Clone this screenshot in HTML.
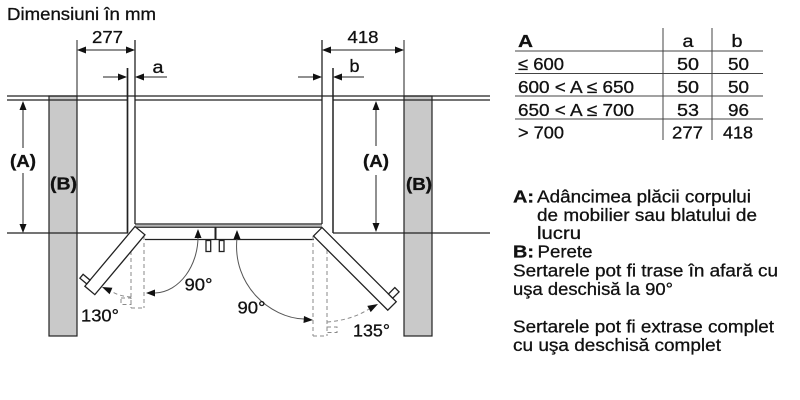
<!DOCTYPE html>
<html>
<head>
<meta charset="utf-8">
<style>
html,body{margin:0;padding:0;background:#fff;}
svg{display:block;}
</style>
</head>
<body>
<svg width="800" height="400" viewBox="0 0 800 400" xmlns="http://www.w3.org/2000/svg" font-family="'Liberation Sans', Arial, sans-serif" font-size="17.5" fill="#111">
<rect x="0" y="0" width="800" height="400" fill="#fff"/>

<!-- Walls -->
<rect x="49" y="96" width="28" height="240" fill="#c9c9c9" stroke="#222" stroke-width="1.2"/>
<rect x="404" y="96" width="28" height="240" fill="#c9c9c9" stroke="#222" stroke-width="1.2"/>

<g stroke="#222" stroke-width="1.3" fill="none">
  <line x1="7" y1="96" x2="490" y2="96"/>
  <line x1="7" y1="100" x2="127" y2="100"/>
  <line x1="135" y1="100" x2="322" y2="100"/>
  <line x1="333" y1="100" x2="490" y2="100"/>
  <line x1="7" y1="233" x2="128" y2="233"/>
  <line x1="333" y1="233" x2="490" y2="233"/>
  <line x1="127.5" y1="68" x2="127.5" y2="233" stroke-width="1.7"/>
  <line x1="333" y1="68" x2="333" y2="233" stroke-width="1.5"/>
  <line x1="135" y1="40" x2="135" y2="224"/>
  <line x1="322" y1="40" x2="322" y2="224"/>
  <line x1="77" y1="40" x2="77" y2="96" stroke-width="1"/>
  <line x1="404" y1="40" x2="404" y2="96" stroke-width="1"/>
  <line x1="135" y1="224" x2="322" y2="224"/>
</g>
<rect x="135" y="224.5" width="187" height="2.3" fill="#b5b5b5"/>
<g stroke="#222" stroke-width="1.3" fill="none">
  <line x1="135" y1="227.3" x2="322" y2="227.3" stroke="#444"/>
  <line x1="145" y1="239.5" x2="314" y2="239.5"/>
  <line x1="215.5" y1="227" x2="215.5" y2="240" stroke-width="2"/>
  <rect x="206" y="240.5" width="4.7" height="11" fill="#fff"/>
  <rect x="219.3" y="240.5" width="4.7" height="11" fill="#fff"/>
</g>

<g stroke="#8a8a8a" stroke-width="1" fill="none" stroke-dasharray="4,3">
  <line x1="131" y1="237" x2="131" y2="308"/>
  <line x1="144" y1="236" x2="144" y2="308"/>
  <line x1="131" y1="308" x2="144" y2="308"/>
  <rect x="121" y="298" width="10" height="6.5"/>
  <path d="M131,297 Q118,296 111,291"/>
  <line x1="313" y1="236" x2="313" y2="336"/>
  <line x1="327" y1="236" x2="327" y2="336"/>
  <line x1="313" y1="336" x2="327" y2="336"/>
  <rect x="327" y="327" width="10" height="5.5"/>
  <path d="M327,322 Q352,320 369,309"/>
</g>
<polygon points="102,287 112.4,287.8 109.6,294.2" fill="#111"/>
<polygon points="378,304 370.7,312.1 367.3,305.9" fill="#111"/>

<g transform="translate(135,226.5) rotate(130)" stroke="#222" stroke-width="1.3" fill="#fff">
  <rect x="0" y="-13" width="78" height="13"/>
  <rect x="70" y="0" width="5" height="9"/>
</g>
<g transform="translate(322,227.5) rotate(45)" stroke="#222" stroke-width="1.3" fill="#fff">
  <rect x="0" y="0" width="105" height="12"/>
  <rect x="94" y="-9" width="6" height="9"/>
</g>

<g stroke="#555" stroke-width="1" fill="none">
  <path d="M198,237 C198,265 180,292 155,293"/>
  <path d="M237,238 C232,285 270,318 304,319"/>
</g>
<polygon points="198,229 194.5,238 201.5,238" fill="#111"/>
<polygon points="146,293 155,289.5 155,296.5" fill="#111"/>
<polygon points="237,230 233.5,239 240.5,239" fill="#111"/>
<polygon points="313,320 304,316 303.5,323" fill="#111"/>

<g stroke="#222" stroke-width="1" fill="none">
  <line x1="80" y1="50" x2="132" y2="50"/>
  <line x1="103" y1="77" x2="124" y2="77"/>
  <line x1="138" y1="77" x2="167" y2="77"/>
  <line x1="325" y1="50" x2="401" y2="50"/>
  <line x1="298" y1="77" x2="319" y2="77"/>
  <line x1="336" y1="77" x2="364" y2="77"/>
  <line x1="23" y1="104" x2="23" y2="148"/>
  <line x1="23" y1="173" x2="23" y2="230"/>
  <line x1="376" y1="104" x2="376" y2="146"/>
  <line x1="376" y1="175" x2="376" y2="229"/>
</g>
<g fill="#111">
  <polygon points="77,50 86,46.5 86,53.5"/>
  <polygon points="135,50 126,46.5 126,53.5"/>
  <polygon points="127,77 118,73.5 118,80.5"/>
  <polygon points="135,77 144,73.5 144,80.5"/>
  <polygon points="322,50 331,46.5 331,53.5"/>
  <polygon points="404,50 395,46.5 395,53.5"/>
  <polygon points="322,77 313,73.5 313,80.5"/>
  <polygon points="333,77 342,73.5 342,80.5"/>
  <polygon points="23,101 19.5,110 26.5,110"/>
  <polygon points="23,233 19.5,224 26.5,224"/>
  <polygon points="376,101 372.5,110 379.5,110"/>
  <polygon points="376,232 372.5,223 379.5,223"/>
</g>

<g stroke="#111" stroke-width="0.3">
<text x="7" y="20" textLength="149" lengthAdjust="spacingAndGlyphs">Dimensiuni în mm</text>
<text x="92" y="43" textLength="31" lengthAdjust="spacingAndGlyphs">277</text>
<text x="152.5" y="73" textLength="11" lengthAdjust="spacingAndGlyphs">a</text>
<text x="347.5" y="43" textLength="31" lengthAdjust="spacingAndGlyphs">418</text>
<text x="349.5" y="72" textLength="10" lengthAdjust="spacingAndGlyphs">b</text>
<text x="10" y="167" font-weight="bold" textLength="26" lengthAdjust="spacingAndGlyphs">(A)</text>
<text x="50" y="189.5" font-weight="bold" textLength="27" lengthAdjust="spacingAndGlyphs">(B)</text>
<text x="363" y="167" font-weight="bold" textLength="26" lengthAdjust="spacingAndGlyphs">(A)</text>
<text x="406" y="190" font-weight="bold" textLength="26" lengthAdjust="spacingAndGlyphs">(B)</text>
<text x="184.5" y="290.5" textLength="28" lengthAdjust="spacingAndGlyphs">90°</text>
<text x="81" y="321.5" textLength="38" lengthAdjust="spacingAndGlyphs">130°</text>
<text x="237.5" y="313.5" textLength="28" lengthAdjust="spacingAndGlyphs">90°</text>
<text x="353" y="336.5" textLength="37" lengthAdjust="spacingAndGlyphs">135°</text>
</g>

<g stroke="#444" stroke-width="1">
  <line x1="515" y1="51" x2="763" y2="51"/>
  <line x1="515" y1="73.5" x2="763" y2="73.5"/>
  <line x1="515" y1="96" x2="763" y2="96"/>
  <line x1="515" y1="119" x2="763" y2="119"/>
  <line x1="663" y1="28" x2="663" y2="140"/>
  <line x1="712" y1="28" x2="712" y2="140"/>
</g>
<g stroke="#111" stroke-width="0.3">
<text x="518" y="47" font-weight="bold" textLength="15" lengthAdjust="spacingAndGlyphs">A</text>
<text x="682.5" y="47" textLength="11" lengthAdjust="spacingAndGlyphs">a</text>
<text x="731.5" y="47" textLength="11" lengthAdjust="spacingAndGlyphs">b</text>
<text x="518" y="70" textLength="46" lengthAdjust="spacingAndGlyphs">≤ 600</text>
<text x="677" y="70" textLength="22" lengthAdjust="spacingAndGlyphs">50</text>
<text x="728" y="70" textLength="21" lengthAdjust="spacingAndGlyphs">50</text>
<text x="518" y="93" textLength="116" lengthAdjust="spacingAndGlyphs">600 &lt; A ≤ 650</text>
<text x="677" y="93" textLength="22" lengthAdjust="spacingAndGlyphs">50</text>
<text x="728" y="93" textLength="21" lengthAdjust="spacingAndGlyphs">50</text>
<text x="518" y="116" textLength="116" lengthAdjust="spacingAndGlyphs">650 &lt; A ≤ 700</text>
<text x="677" y="116" textLength="22" lengthAdjust="spacingAndGlyphs">53</text>
<text x="728" y="116" textLength="21" lengthAdjust="spacingAndGlyphs">96</text>
<text x="518" y="138.5" textLength="46" lengthAdjust="spacingAndGlyphs">&gt; 700</text>
<text x="672" y="138.5" textLength="31" lengthAdjust="spacingAndGlyphs">277</text>
<text x="723" y="138.5" textLength="30" lengthAdjust="spacingAndGlyphs">418</text>

<text x="513" y="202.5" font-weight="bold" textLength="21" lengthAdjust="spacingAndGlyphs">A:</text>
<text x="537" y="202.5" textLength="214" lengthAdjust="spacingAndGlyphs">Adâncimea plăcii corpului</text>
<text x="537" y="221" textLength="220" lengthAdjust="spacingAndGlyphs">de mobilier sau blatului de</text>
<text x="537" y="239" textLength="44" lengthAdjust="spacingAndGlyphs">lucru</text>
<text x="513" y="257.5" font-weight="bold" textLength="21" lengthAdjust="spacingAndGlyphs">B:</text>
<text x="537.5" y="257.5" textLength="55" lengthAdjust="spacingAndGlyphs">Perete</text>
<text x="513" y="276.5" textLength="265" lengthAdjust="spacingAndGlyphs">Sertarele pot fi trase în afară cu</text>
<text x="513" y="295" textLength="160" lengthAdjust="spacingAndGlyphs">uşa deschisă la 90°</text>
<text x="513" y="332.5" textLength="261" lengthAdjust="spacingAndGlyphs">Sertarele pot fi extrase complet</text>
<text x="513" y="351" textLength="208" lengthAdjust="spacingAndGlyphs">cu uşa deschisă complet</text>
</g>
</svg>
</body>
</html>
